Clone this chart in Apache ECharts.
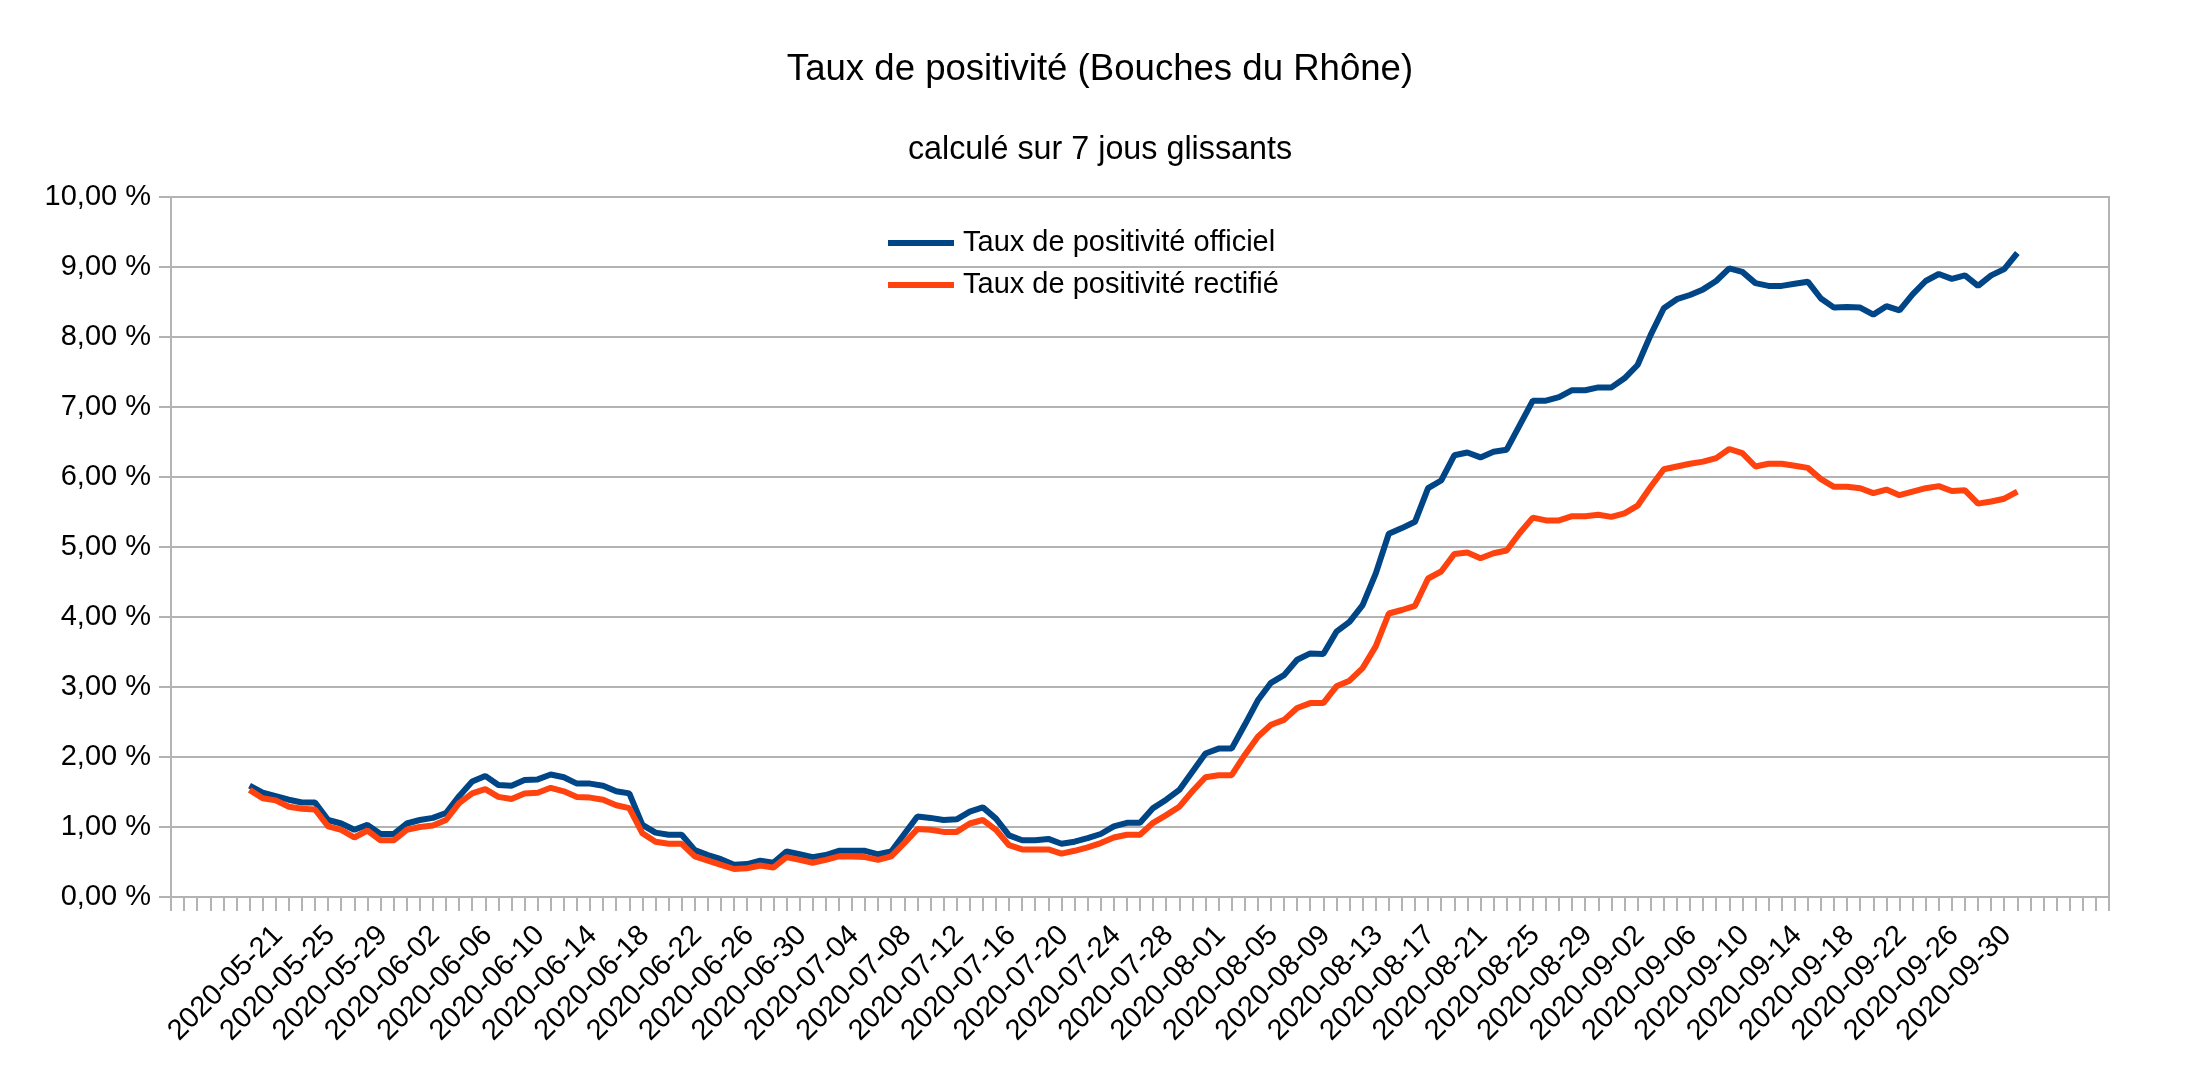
<!DOCTYPE html>
<html>
<head>
<meta charset="utf-8">
<script src="https://cdn.jsdelivr.net/npm/echarts@6/dist/echarts.min.js"></script>
<style>
html,body{margin:0;padding:0;background:#fff;}
#chart{width:2200px;height:1077px;}
</style>
</head>
<body>
<div id="chart"></div>
<script>
// ---- data ----
const firstDate = '2020-05-21';
const dayCount = 136;            // 2020-05-21 .. 2020-10-03
const blankBefore = 6;           // empty category rows before the first date
const blankAfter = 7;            // empty category rows after the last date

const officiel = [
  1.59,1.49,1.44,1.39,1.35,1.35,1.10,1.05,0.96,1.03,0.90,0.90,1.05,1.10,1.13,1.20,
  1.44,1.65,1.73,1.60,1.59,1.67,1.68,1.75,1.71,1.62,1.62,1.59,1.51,1.48,1.03,0.92,
  0.89,0.89,0.67,0.60,0.54,0.46,0.47,0.52,0.49,0.65,0.61,0.57,0.60,0.66,0.66,0.66,
  0.61,0.65,0.90,1.15,1.13,1.10,1.11,1.22,1.28,1.12,0.88,0.81,0.81,0.83,0.76,0.79,
  0.84,0.90,1.01,1.06,1.06,1.27,1.39,1.53,1.79,2.05,2.12,2.12,2.46,2.81,3.06,3.17,
  3.39,3.48,3.47,3.79,3.93,4.17,4.62,5.19,5.27,5.36,5.84,5.95,6.31,6.35,6.28,6.36,
  6.39,6.74,7.09,7.09,7.14,7.24,7.24,7.28,7.28,7.41,7.60,8.03,8.41,8.54,8.60,8.68,
  8.80,8.98,8.93,8.77,8.73,8.73,8.76,8.79,8.55,8.42,8.43,8.42,8.32,8.44,8.38,8.61,
  8.80,8.90,8.83,8.88,8.73,8.88,8.97,9.20
];
const rectifie = [
  1.53,1.41,1.38,1.29,1.26,1.25,1.01,0.96,0.85,0.95,0.81,0.81,0.96,1.00,1.02,1.10,
  1.34,1.48,1.54,1.43,1.40,1.48,1.49,1.56,1.51,1.43,1.42,1.39,1.31,1.27,0.91,0.79,
  0.76,0.76,0.58,0.52,0.46,0.40,0.41,0.45,0.42,0.57,0.53,0.49,0.53,0.58,0.58,0.57,
  0.53,0.58,0.77,0.97,0.96,0.93,0.93,1.05,1.10,0.96,0.74,0.68,0.68,0.68,0.62,0.66,
  0.71,0.77,0.85,0.89,0.89,1.06,1.17,1.29,1.51,1.71,1.74,1.74,2.03,2.29,2.46,2.53,
  2.70,2.77,2.77,3.01,3.09,3.27,3.58,4.05,4.10,4.16,4.55,4.65,4.90,4.92,4.84,4.91,
  4.95,5.20,5.42,5.38,5.38,5.44,5.44,5.46,5.43,5.48,5.59,5.86,6.11,6.15,6.19,6.22,
  6.27,6.40,6.34,6.15,6.19,6.19,6.16,6.13,5.97,5.86,5.86,5.84,5.77,5.82,5.74,5.79,
  5.84,5.87,5.80,5.81,5.62,5.65,5.69,5.79
];
const tickLabels = [
  '2020-05-21','2020-05-25','2020-05-29','2020-06-02','2020-06-06','2020-06-10',
  '2020-06-14','2020-06-18','2020-06-22','2020-06-26','2020-06-30','2020-07-04',
  '2020-07-08','2020-07-12','2020-07-16','2020-07-20','2020-07-24','2020-07-28',
  '2020-08-01','2020-08-05','2020-08-09','2020-08-13','2020-08-17','2020-08-21',
  '2020-08-25','2020-08-29','2020-09-02','2020-09-06','2020-09-10','2020-09-14',
  '2020-09-18','2020-09-22','2020-09-26','2020-09-30'
];
const seriesNames = ['Taux de positivité officiel', 'Taux de positivité rectifié'];

// ---- build categories ----
function isoDay(start, k) {
  const d = new Date(start + 'T00:00:00Z');
  d.setUTCDate(d.getUTCDate() + k);
  return d.toISOString().slice(0, 10);
}
const dates = [];
for (let k = 0; k < dayCount; k++) dates.push(isoDay(firstDate, k));
const categories = [
  ...new Array(blankBefore).fill(''),
  ...dates,
  ...new Array(blankAfter).fill('')
];
const pad = arr => [...new Array(blankBefore).fill(null), ...arr];
const labelSet = new Set(tickLabels);

const FONT = '"Liberation Sans", Arial, sans-serif';
const GRAY = '#b3b3b3';

const chart = echarts.init(document.getElementById('chart'), null, {renderer: 'canvas'});
chart.setOption({
  animation: false,
  backgroundColor: '#ffffff',
  textStyle: {fontFamily: FONT, color: '#000'},
  title: [
    {text: 'Taux de positivité (Bouches du Rhône)', left: 'center', top: 46,
     textStyle: {fontFamily: FONT, fontSize: 36.6, fontWeight: 'normal', color: '#000'}},
    {text: 'calculé sur 7 jous glissants', left: 'center', top: 129,
     textStyle: {fontFamily: FONT, fontSize: 32.3, fontWeight: 'normal', color: '#000'}}
  ],
  legend: {
    orient: 'vertical', left: 883, top: 223,
    icon: 'rect', itemWidth: 66, itemHeight: 6, itemGap: 12,
    textStyle: {fontFamily: FONT, fontSize: 29, color: '#000', padding: [0, 0, 0, 4], lineHeight: 30},
    data: seriesNames
  },
  grid: {left: 171, right: 91, top: 197, bottom: 180, show: true,
         borderColor: GRAY, borderWidth: 2, containLabel: false},
  xAxis: {
    type: 'category', data: categories, boundaryGap: false,
    axisLine: {lineStyle: {color: GRAY, width: 2}},
    axisTick: {show: true, interval: 0, length: 14, lineStyle: {color: GRAY, width: 2}},
    axisLabel: {
      interval: (idx, val) => labelSet.has(val),
      rotate: 45, fontSize: 29, fontFamily: FONT, color: '#000', margin: 42,
      verticalAlign: 'top', padding: [0, -26, 0, 0]
    },
    splitLine: {show: false}
  },
  yAxis: {
    type: 'value', min: 0, max: 10, interval: 1,
    axisLine: {show: true, lineStyle: {color: GRAY, width: 2}},
    axisTick: {show: true, length: 12, lineStyle: {color: GRAY, width: 2}},
    axisLabel: {
      fontSize: 29, fontFamily: FONT, color: '#000', margin: 20,
      formatter: v => v.toFixed(2).replace('.', ',') + ' %'
    },
    splitLine: {show: true, lineStyle: {color: GRAY, width: 2}}
  },
  series: [
    {name: seriesNames[0], type: 'line', data: pad(officiel), showSymbol: false, symbol: 'none',
     lineStyle: {color: '#004586', width: 6}, itemStyle: {color: '#004586'}, connectNulls: false},
    {name: seriesNames[1], type: 'line', data: pad(rectifie), showSymbol: false, symbol: 'none',
     lineStyle: {color: '#ff420e', width: 6}, itemStyle: {color: '#ff420e'}, connectNulls: false}
  ]
});
</script>
</body>
</html>
